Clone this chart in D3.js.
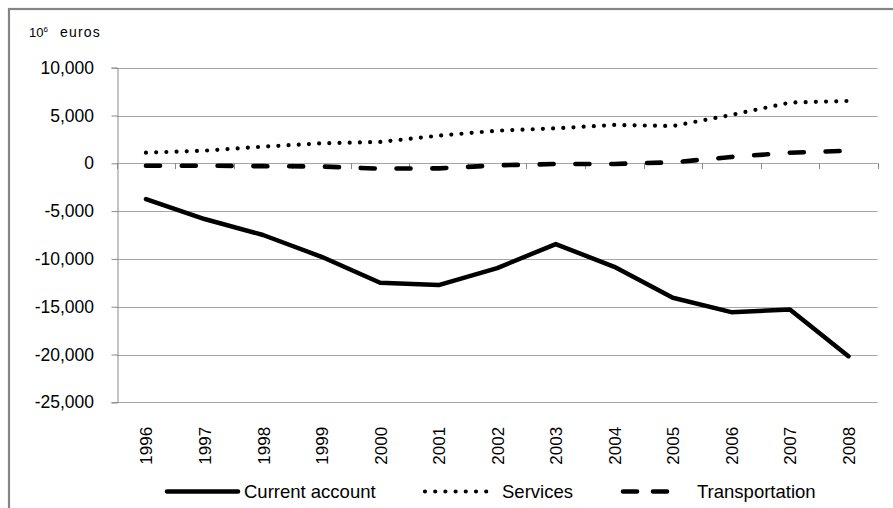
<!DOCTYPE html>
<html>
<head>
<meta charset="utf-8">
<script src="https://cdn.jsdelivr.net/npm/d3@7"></script>
<style>
  html, body { margin: 0; padding: 0; background: #fff; }
  svg { display: block; font-family: "Liberation Sans", Arial, sans-serif; }
</style>
</head>
<body>
<svg id="chart" width="893" height="508"></svg>
<script>
// Balance of payments components, million euros
const years = ["1996","1997","1998","1999","2000","2001","2002","2003","2004","2005","2006","2007","2008"];
const currentAccount = [-3740, -5830, -7500, -9780, -12500, -12740, -10960, -8450, -10830, -14070, -15570, -15290, -20180];
const services = [1110, 1320, 1740, 2090, 2230, 2890, 3410, 3660, 4010, 3900, 5060, 6350, 6520];
const transportation = [-250, -250, -300, -330, -560, -530, -210, -70, -70, 100, 660, 1110, 1320];
const yTicks = [10000, 5000, 0, -5000, -10000, -15000, -20000, -25000];

const seriesList = [
  { name: "Current account", values: currentAccount, dash: null, width: 4.5 },
  { name: "Services", values: services, dash: "0,10.2", width: 4.2 },
  { name: "Transportation", values: transportation, dash: "14,21.8", width: 4.6 }
];

const svg = d3.select("#chart");
const plotLeft = 116.7, plotRight = 877.7, plotTop = 67.7, plotBottom = 402.3;

const x = d3.scaleBand().domain(years).range([plotLeft, plotRight]).padding(0);
const y = d3.scaleLinear().domain([-25000, 10000]).range([plotBottom, plotTop]);
// thousands separator, plain hyphen for negatives
const fmt = v => d3.format(",")(v).replace("\u2212", "-");

// outer frame
svg.append("rect")
  .attr("x", 9).attr("y", 9).attr("width", 920).attr("height", 560)
  .attr("fill", "none").attr("stroke", "#858585").attr("stroke-width", 2.2);

// horizontal gridlines
svg.append("g").selectAll("line").data(yTicks).join("line")
  .attr("x1", plotLeft).attr("x2", plotRight)
  .attr("y1", d => Math.round(y(d)) + 0.5).attr("y2", d => Math.round(y(d)) + 0.5)
  .attr("stroke", "#a6a6a6").attr("stroke-width", 1);

// value axis
const yAxis = svg.append("g")
  .attr("transform", `translate(${Math.round(plotLeft) + 0.5},0)`)
  .call(d3.axisLeft(y).tickValues(yTicks).tickFormat(fmt).tickSize(6).tickPadding(17.5));
yAxis.select(".domain").attr("stroke", "#8a8a8a");
yAxis.selectAll(".tick line").attr("stroke", "#8a8a8a");
yAxis.selectAll(".tick text")
  .attr("font-size", 17.5).attr("fill", "#000")
  .attr("font-family", "Liberation Sans, Arial, sans-serif");

// category axis crossing at zero, ticks between categories
const boundaries = years.map(d => x(d)).concat([plotRight]);
svg.append("g").selectAll("line").data(boundaries).join("line")
  .attr("x1", d => Math.round(d) + 0.5).attr("x2", d => Math.round(d) + 0.5)
  .attr("y1", Math.round(y(0))).attr("y2", Math.round(y(0)) + 6)
  .attr("stroke", "#8a8a8a");

// category labels, rotated, at the bottom
svg.append("g").selectAll("text").data(years).join("text")
  .attr("transform", d => `translate(${x(d) + x.bandwidth() / 2 + 6.5},${plotBottom + 24.5}) rotate(-90)`)
  .attr("text-anchor", "end")
  .attr("font-size", 17)
  .attr("fill", "#000")
  .text(d => d);

// unit label
const unit = svg.append("text").attr("x", 29).attr("y", 37).attr("font-size", 13).attr("fill", "#000");
unit.append("tspan").text("10");
unit.append("tspan").attr("font-size", 8).attr("dy", -5).text("6");
unit.append("tspan").attr("dy", 5).attr("dx", 12).attr("font-size", 14).attr("letter-spacing", 1.2).text("euros");

// series lines
const line = d3.line()
  .x((d, i) => x(years[i]) + x.bandwidth() / 2)
  .y(d => y(d));

svg.append("g").selectAll("path").data(seriesList).join("path")
  .attr("d", s => line(s.values))
  .attr("fill", "none")
  .attr("stroke", "#000")
  .attr("stroke-width", s => s.width)
  .attr("stroke-linecap", "round")
  .attr("stroke-linejoin", "round")
  .attr("stroke-dasharray", s => s.dash);

// legend
const legendY = 491.5;
const legendItems = [
  { s: seriesList[0], x1: 167, x2: 238, tx: 244 },
  { s: seriesList[1], x1: 425, x2: 490, tx: 502 },
  { s: seriesList[2], x1: 623, x2: 667, tx: 697 }
];
const lg = svg.append("g");
legendItems.forEach(it => {
  lg.append("line")
    .attr("x1", it.x1).attr("x2", it.x2).attr("y1", legendY).attr("y2", legendY)
    .attr("stroke", "#000").attr("stroke-width", it.s.width)
    .attr("stroke-linecap", "round")
    .attr("stroke-dasharray", it.s === seriesList[2] ? "14,16" : it.s.dash);
  lg.append("text")
    .attr("x", it.tx).attr("y", legendY + 6.5)
    .attr("font-size", 18.5).attr("fill", "#000")
    .text(it.s.name);
});
</script>
</body>
</html>
